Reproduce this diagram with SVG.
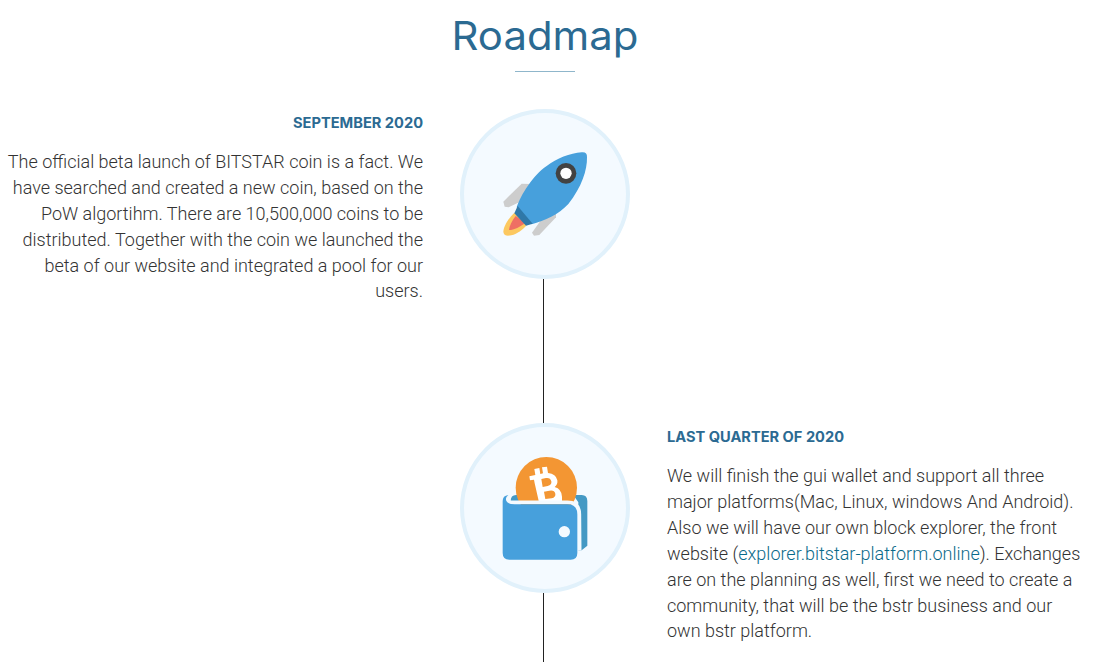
<svg xmlns="http://www.w3.org/2000/svg" width="1099" height="662" viewBox="0 0 1099 662">
<style>
.title{font-family:Inter,"Open Sans","Liberation Sans",sans-serif;font-size:39px;font-weight:400;fill:#2b6a92;text-anchor:middle}
.head{font-family:Inter,"Open Sans","Liberation Sans",sans-serif;font-size:14px;font-weight:700;fill:#2b6a92}
.body{font-family:Roboto,"Liberation Sans",sans-serif;font-size:18px;font-weight:300;fill:#333}
.r{text-anchor:end}
.link{fill:#0a6a8a}
.ring{fill:#f4faff;stroke:#e1f1fb;stroke-width:4}
.line{stroke:#222;stroke-width:1;fill:none}
</style>
<rect width="1099" height="662" fill="#fff"/>
<g id="title">
<text class="title" x="545" y="50" textLength="187" lengthAdjust="spacingAndGlyphs">Roadmap</text>
<line x1="515" y1="71.500" x2="575" y2="71.500" stroke="#8fb6cb" stroke-width="1"/>
</g>
<g id="connectors">
<line class="line" x1="543.500" y1="279" x2="543.500" y2="423"/>
<line class="line" x1="543.500" y1="593" x2="543.500" y2="662"/>
</g>
<g id="node-september">
<circle class="ring" cx="545" cy="194" r="83"/>
<g transform="translate(450,100) scale(.33333)">
<path d="M215 251 L242 252 L222 300 L176 322 L164 320 L160 305 Z" fill="#cdcdcd"/>
<path d="M305 328 L318 335 L318 352 L268 405 L252 407 L246 398 L280 350 Z" fill="#cdcdcd"/>
<path d="M193 338 C172 358 160 382 160 396 C162 408 172 408 184 406 C202 402 220 388 230 375 Z" fill="#fcc860"/>
<path d="M197 348 C186 362 178 378 177 390 C192 390 212 380 226 368 Z" fill="#ee6f64"/>
<path d="M200 322 C212 285 250 225 290 198 C320 175 360 160 395 157 Q412 155 411 172 C412 210 395 262 355 312 C325 345 285 360 245 373 Z" fill="#47a0dc"/>
<path d="M203 318 L248 371 L228 377 L193 340 Z" fill="#2f78a8"/>
<circle cx="348" cy="220" r="31" fill="#424242"/>
<circle cx="348" cy="220" r="17" fill="#fff"/>
</g>
</g>
<g id="node-last-quarter">
<circle class="ring" cx="545" cy="508" r="83"/>
<g transform="translate(450,415) scale(.33333)">
<path d="M182 258 Q182 240 198 240 L210 240 L210 258 Z" fill="#4499c4"/>
<path d="M370 240 L395 240 Q412 240 412 258 L412 392 L395 406 L385 406 L385 262 Z" fill="#4499c4"/>
<circle cx="289" cy="218" r="92" fill="#f39633"/>
<path fill-rule="evenodd" fill="#fff" d="M238 184 L256 180 L253 162 L268 159 L271 177 L279 175 L276 157 L291 155 L294 174 Q318 176 322 196 Q324 208 314 216 Q335 222 336 245 L336 262 L267 262 L254 205 L252 194 L240 196 Z M274 192 L278 216 L293 213 Q306 210 304 199 Q301 187 288 189 Z M282 230 L286 252 L305 250 Q318 246 316 236 Q313 224 298 227 Z"/>
<path d="M178 242 Q165 246 169 255 Q173 262 190 262 L352 262 Q388 262 388 298 L389 406" fill="none" stroke="#f4faff" stroke-width="11"/>
<path d="M158 258 Q158 242 175 240 Q162 250 172 262 Q178 268 195 268 L352 268 Q382 268 382 298 L382 414 Q382 434 362 434 L178 434 Q158 434 158 414 Z" fill="#47a0dc"/>
<circle cx="343" cy="350" r="17" fill="#f4faff"/>
</g>
</g>
<g id="text-september">
<text class="head r" x="423" y="128" textLength="130" lengthAdjust="spacingAndGlyphs">SEPTEMBER 2020</text>
<text class="body r" x="423" y="167.500">The official beta launch of BITSTAR coin is a fact. We</text>
<text class="body r" x="423" y="193.500">have searched and created a new coin, based on the</text>
<text class="body r" x="423" y="219.500">PoW algortihm. There are 10,500,000 coins to be</text>
<text class="body r" x="423" y="245.500">distributed. Together with the coin we launched the</text>
<text class="body r" x="423" y="271.500">beta of our website and integrated a pool for our</text>
<text class="body r" x="423" y="297">users.</text>
</g>
<g id="text-last-quarter">
<text class="head" x="667" y="442" textLength="177" lengthAdjust="spacingAndGlyphs">LAST QUARTER OF 2020</text>
<text class="body" x="667" y="482">We will finish the gui wallet and support all three</text>
<text class="body" x="667" y="508">major platforms(Mac, Linux, windows And Android).</text>
<text class="body" x="667" y="534">Also we will have our own block explorer, the front</text>
<text class="body" x="667" y="560">website (<tspan class="link">explorer.bitstar-platform.online</tspan>). Exchanges</text>
<text class="body" x="667" y="586">are on the planning as well, first we need to create a</text>
<text class="body" x="667" y="612">community, that will be the bstr business and our</text>
<text class="body" x="667" y="637">own bstr platform.</text>
</g>
</svg>
